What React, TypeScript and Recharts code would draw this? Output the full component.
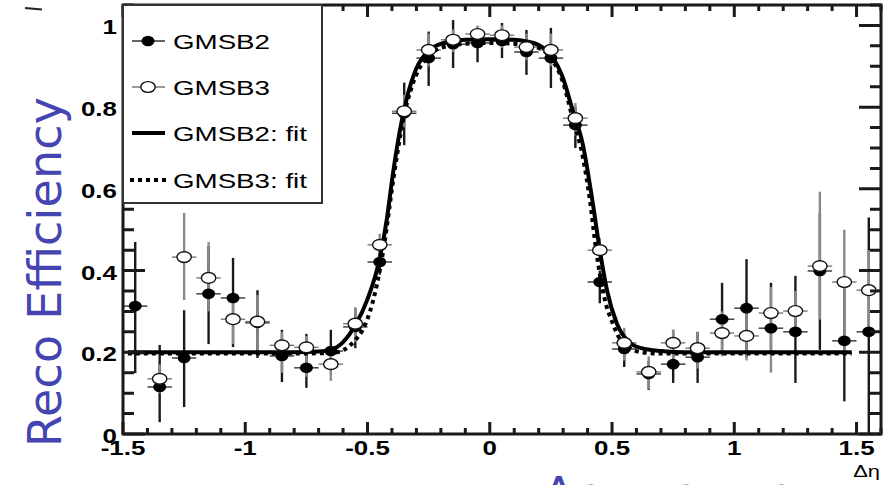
import React from "react";
import { ComposedChart, Scatter, Line, XAxis, YAxis, ErrorBar } from "recharts";

// bin centres in delta-eta (bin width 0.1)
const binCenters = [
  -1.45, -1.35, -1.25, -1.15, -1.05, -0.95, -0.85, -0.75, -0.65, -0.55, -0.45,
  -0.35, -0.25, -0.15, -0.05, 0.05, 0.15, 0.25, 0.35, 0.45, 0.55, 0.65, 0.75,
  0.85, 0.95, 1.05, 1.15, 1.25, 1.35, 1.45, 1.55,
];
const binHalfWidth = 0.05;

// GMSB2 (filled markers)
const gmsb2Eff = [
  0.313, 0.115, 0.186, 0.343, 0.333, 0.272, 0.191, 0.162, 0.203, 0.262, 0.421,
  0.785, 0.92, 0.954, 0.957, 0.962, 0.935, 0.92, 0.756, 0.372, 0.208, 0.147,
  0.171, 0.188, 0.281, 0.308, 0.259, 0.25, 0.399, 0.228, 0.25,
];
const gmsb2Low = [
  0.149, 0.029, 0.066, 0.22, 0.213, 0.186, 0.127, 0.113, 0.175, 0.21, 0.39,
  0.707, 0.852, 0.896, 0.91, 0.92, 0.879, 0.847, 0.7, 0.32, 0.164, 0.108,
  0.125, 0.125, 0.206, 0.188, 0.2, 0.125, 0.206, 0.08, 0.0,
];
const gmsb2High = [
  0.47, 0.218, 0.303, 0.46, 0.431, 0.352, 0.255, 0.245, 0.255, 0.308, 0.45,
  0.86, 0.985, 1.013, 0.994, 1.006, 0.989, 0.994, 0.8, 0.4, 0.24, 0.179,
  0.255, 0.25, 0.37, 0.428, 0.37, 0.387, 0.541, 0.36, 0.53,
];

// GMSB3 (open markers), no entry in the first bin
const gmsb3Eff = [
  null, 0.135, 0.433, 0.382, 0.281, 0.275, 0.217, 0.212, 0.171, 0.27, 0.463,
  0.79, 0.94, 0.965, 0.979, 0.976, 0.947, 0.94, 0.773, 0.45, 0.223, 0.152,
  0.223, 0.21, 0.247, 0.24, 0.296, 0.301, 0.411, 0.372, 0.352,
];
const gmsb3Low = [
  null, 0.1, 0.328, 0.3, 0.22, 0.2, 0.15, 0.14, 0.13, 0.225, 0.43,
  0.75, 0.9, 0.935, 0.95, 0.945, 0.915, 0.9, 0.73, 0.42, 0.18, 0.11,
  0.16, 0.16, 0.19, 0.18, 0.15, 0.25, 0.28, 0.2, 0.25,
];
const gmsb3High = [
  null, 0.17, 0.541, 0.47, 0.34, 0.34, 0.25, 0.24, 0.21, 0.31, 0.49,
  0.83, 0.98, 0.99, 1.0, 1.0, 0.98, 0.98, 0.81, 0.48, 0.26, 0.19,
  0.255, 0.25, 0.3, 0.3, 0.36, 0.35, 0.593, 0.5, 0.45,
];

// fit curves
const fit2X = [
  -1.48, -0.8, -0.7, -0.65, -0.6, -0.55, -0.5, -0.45, -0.42, -0.4, -0.38, -0.34,
  -0.3, -0.25, -0.2, -0.15, -0.1, 0, 0.1, 0.15, 0.2, 0.25, 0.3, 0.34, 0.38, 0.42,
  0.45, 0.48, 0.52, 0.57, 0.62, 0.7, 0.8, 1.48,
];
const fit2Y = [
  0.2, 0.2, 0.202, 0.206, 0.225, 0.266, 0.33, 0.43, 0.53, 0.62, 0.7, 0.82,
  0.895, 0.938, 0.955, 0.962, 0.965, 0.966, 0.965, 0.961, 0.952, 0.928, 0.87, 0.79, 0.71, 0.57,
  0.45, 0.35, 0.27, 0.225, 0.21, 0.203, 0.2, 0.2,
];
const fit3X = [
  -1.48, -0.8, -0.65, -0.6, -0.55, -0.52, -0.48, -0.46, -0.43, -0.4, -0.38, -0.35,
  -0.3, -0.25, -0.2, -0.1, 0, 0.1, 0.2, 0.25, 0.3, 0.34, 0.38, 0.41, 0.435, 0.47,
  0.5, 0.53, 0.57, 0.62, 0.7, 1.48,
];
const fit3Y = [
  0.197, 0.197, 0.198, 0.205, 0.23, 0.255, 0.32, 0.37, 0.47, 0.6, 0.68, 0.78,
  0.88, 0.925, 0.945, 0.955, 0.957, 0.955, 0.945, 0.92, 0.86, 0.77, 0.68, 0.57, 0.45, 0.33,
  0.275, 0.235, 0.212, 0.2, 0.197, 0.197,
];

// axis ticks: labels on the major ones, small marks on all of them
const xLabelTicks = [-1.5, -1, -0.5, 0, 0.5, 1, 1.5];
const yLabelTicks = [0, 0.2, 0.4, 0.6, 0.8, 1];
const xFrameTicks = [
  -1.5, -1.4, -1.3, -1.2, -1.1, -1, -0.9, -0.8, -0.7, -0.6, -0.5, -0.4, -0.3,
  -0.2, -0.1, 0, 0.1, 0.2, 0.3, 0.4, 0.5, 0.6, 0.7, 0.8, 0.9, 1, 1.1, 1.2, 1.3,
  1.4, 1.5, 1.6,
];
const yFrameTicks = [
  0, 0.05, 0.1, 0.15, 0.2, 0.25, 0.3, 0.35, 0.4, 0.45, 0.5, 0.55, 0.6, 0.65,
  0.7, 0.75, 0.8, 0.85, 0.9, 0.95, 1, 1.05,
];

const X_DOMAIN: [number, number] = [-1.5, 1.6];
const Y_DOMAIN: [number, number] = [0, 1.05];
const STRETCH = 1.33; // the original picture is stretched sideways
const BLUE = "#4545b2";

const CHART_W = 884;
const CHART_H = 485;
const MARGIN = { top: 5, right: 3, bottom: 0, left: 0 };
const X_AXIS_H = 51;
const Y_AXIS_W = 123;
const PLOT_LEFT = MARGIN.left + Y_AXIS_W;
const PLOT_TOP = MARGIN.top;
const PLOT_RIGHT = CHART_W - MARGIN.right;
const PLOT_BOTTOM = CHART_H - MARGIN.bottom - X_AXIS_H;

const gmsb2Data = binCenters.map((x, i) => ({
  x,
  y: gmsb2Eff[i],
  ey: [gmsb2Eff[i] - gmsb2Low[i], gmsb2High[i] - gmsb2Eff[i]],
  ex: binHalfWidth,
}));
const gmsb3Data = binCenters
  .map((x, i) => ({
    x,
    y: gmsb3Eff[i],
    ey: gmsb3Eff[i] == null ? [0, 0] : [gmsb3Eff[i]! - gmsb3Low[i]!, gmsb3High[i]! - gmsb3Eff[i]!],
    ex: binHalfWidth,
  }))
  .filter((d) => d.y != null);
const fit2Data = fit2X.map((x, i) => ({ x, y: fit2Y[i] }));
const fit3Data = fit3X.map((x, i) => ({ x, y: fit3Y[i] }));

const isMajor = (v: number, step: number) => Math.abs(v / step - Math.round(v / step)) < 1e-6;
const hasLabel = (v: number, list: number[]) => list.some((t) => Math.abs(t - v) < 1e-6);

const labelFont = "'Liberation Sans', Arial, Helvetica, sans-serif";
const TICK_COLOR = "#1a1a1a";
const TICK_WIDTH = 3;

// x tick: inward marks on bottom and top of the frame, bold label below
const XTick = ({ x, y, payload }: any) => {
  const v = payload.value as number;
  const len = isMajor(v, 0.5) ? 12 : 6;
  return (
    <g>
      <path
        d={`M${x},${PLOT_BOTTOM}V${PLOT_BOTTOM - len}M${x},${PLOT_TOP}V${PLOT_TOP + len}`}
        stroke={TICK_COLOR}
        strokeWidth={TICK_WIDTH}
        fill="none"
      />
      {hasLabel(v, xLabelTicks) && (
        <text
          transform={`translate(${x},${y + 21}) scale(${STRETCH},1)`}
          textAnchor="middle"
          fontFamily={labelFont}
          fontWeight="bold"
          fontSize={19.5}
          fill="#000"
        >
          {String(v)}
        </text>
      )}
    </g>
  );
};

// y tick: inward marks on left and right of the frame, bold label left
const YTick = ({ x, y, payload }: any) => {
  const v = payload.value as number;
  const len = isMajor(v, 0.2) ? 22 : 11;
  return (
    <g>
      <path
        d={`M${PLOT_LEFT},${y}H${PLOT_LEFT + len}M${PLOT_RIGHT},${y}H${PLOT_RIGHT - len}`}
        stroke={TICK_COLOR}
        strokeWidth={TICK_WIDTH}
        fill="none"
      />
      {hasLabel(v, yLabelTicks) && (
        <text
          transform={`translate(${x - 6},${y + 9}) scale(${STRETCH},1)`}
          textAnchor="end"
          fontFamily={labelFont}
          fontWeight="bold"
          fontSize={19.5}
          fill="#000"
        >
          {String(v)}
        </text>
      )}
    </g>
  );
};

const FilledMarker = ({ cx, cy }: any) =>
  cx == null ? null : <ellipse cx={cx} cy={cy} rx={6.5} ry={5.3} fill="#000" />;
const OpenMarker = ({ cx, cy }: any) =>
  cx == null ? null : (
    <ellipse cx={cx} cy={cy} rx={7.2} ry={5.4} fill="#fff" stroke="#111" strokeWidth={1.4} />
  );

function Legend() {
  const rows = [
    { y: 41, label: "GMSB2" },
    { y: 87, label: "GMSB3" },
    { y: 133, label: "GMSB2: fit" },
    { y: 180, label: "GMSB3: fit" },
  ];
  return (
    <g>
      <rect x={PLOT_LEFT} y={PLOT_TOP} width={199} height={198} fill="#fff" stroke="#333" strokeWidth={2} />
      <line x1={132} y1={41} x2={165} y2={41} stroke="#333" strokeWidth={1.5} />
      <ellipse cx={148} cy={41} rx={6.5} ry={5.3} fill="#000" />
      <line x1={132} y1={87} x2={165} y2={87} stroke="#777" strokeWidth={1.5} />
      <ellipse cx={148} cy={87} rx={7.2} ry={5.4} fill="#fff" stroke="#111" strokeWidth={1.4} />
      <line x1={132} y1={133} x2={165} y2={133} stroke="#000" strokeWidth={4} />
      <line x1={130} y1={180} x2={166} y2={180} stroke="#000" strokeWidth={4} strokeDasharray="4 4" />
      {rows.map((r) => (
        <text
          key={r.label}
          transform={`translate(173,${r.y + 7.5}) scale(1.32,1)`}
          fontFamily={labelFont}
          fontSize={21}
          fill="#000"
        >
          {r.label}
        </text>
      ))}
    </g>
  );
}

export default function App() {
  return (
    <div
      style={{ position: "absolute", left: 0, top: 0, width: CHART_W, height: CHART_H, background: "#fff", overflow: "hidden" }}
    >
      <ComposedChart width={CHART_W} height={CHART_H} margin={MARGIN}>
        <XAxis
          dataKey="x"
          type="number"
          domain={X_DOMAIN}
          allowDataOverflow
          ticks={xFrameTicks}
          interval={0}
          height={X_AXIS_H}
          tickSize={0}
          tickMargin={0}
          tickLine={false}
          axisLine={false}
          tick={XTick}
        />
        <YAxis
          type="number"
          domain={Y_DOMAIN}
          allowDataOverflow
          ticks={yFrameTicks}
          interval={0}
          width={Y_AXIS_W}
          tickSize={0}
          tickMargin={0}
          tickLine={false}
          axisLine={false}
          tick={YTick}
        />

        <Scatter data={gmsb2Data} dataKey="y" shape={FilledMarker} isAnimationActive={false}>
          <ErrorBar dataKey="ey" direction="y" width={0} stroke="#1a1a1a" strokeWidth={2.4} />
          <ErrorBar dataKey="ex" direction="x" width={0} stroke="#333" strokeWidth={1.4} />
        </Scatter>
        <Scatter data={gmsb3Data} dataKey="y" shape={OpenMarker} isAnimationActive={false}>
          <ErrorBar dataKey="ey" direction="y" width={0} stroke="#8a8a8a" strokeWidth={2.4} />
          <ErrorBar dataKey="ex" direction="x" width={0} stroke="#777" strokeWidth={1.4} />
        </Scatter>

        <Line
          data={fit2Data}
          dataKey="y"
          type="monotone"
          stroke="#000"
          strokeWidth={4}
          dot={false}
          activeDot={false}
          isAnimationActive={false}
        />
        <Line
          data={fit3Data}
          dataKey="y"
          type="monotone"
          stroke="#000"
          strokeWidth={4}
          strokeDasharray="4 4"
          dot={false}
          activeDot={false}
          isAnimationActive={false}
        />
      </ComposedChart>

      <svg
        width={CHART_W}
        height={CHART_H}
        style={{ position: "absolute", left: 0, top: 0, pointerEvents: "none" }}
      >
        <path
          d={`M${PLOT_LEFT},${PLOT_TOP}H${PLOT_RIGHT}V${PLOT_BOTTOM}H${PLOT_LEFT}Z`}
          fill="none"
          stroke="#1a1a1a"
          strokeWidth={3}
        />
        <Legend />
        <line x1={25} y1={8} x2={42} y2={9.5} stroke="#222" strokeWidth={2} />
        <text
          transform="translate(61,272) rotate(-90)"
          textAnchor="middle"
          fontFamily="'DejaVu Sans', sans-serif"
          fontSize={46}
          textLength={350}
          lengthAdjust="spacing"
          fill={BLUE}
        >
          Reco Efficiency
        </text>
        <text
          transform={`translate(880,477) scale(${STRETCH},1)`}
          textAnchor="end"
          fontFamily={labelFont}
          fontSize={16.5}
          fill="#000"
        >
          Δη
        </text>
        <text fontFamily="'DejaVu Sans', sans-serif" fontSize={46} fill={BLUE} y={510}>
          <tspan x={543}>Δη</tspan>
          <tspan x={617}>=</tspan>
          <tspan x={670}>η</tspan>
          <tspan x={718}>−</tspan>
          <tspan x={765}>η</tspan>
        </text>
      </svg>
    </div>
  );
}
